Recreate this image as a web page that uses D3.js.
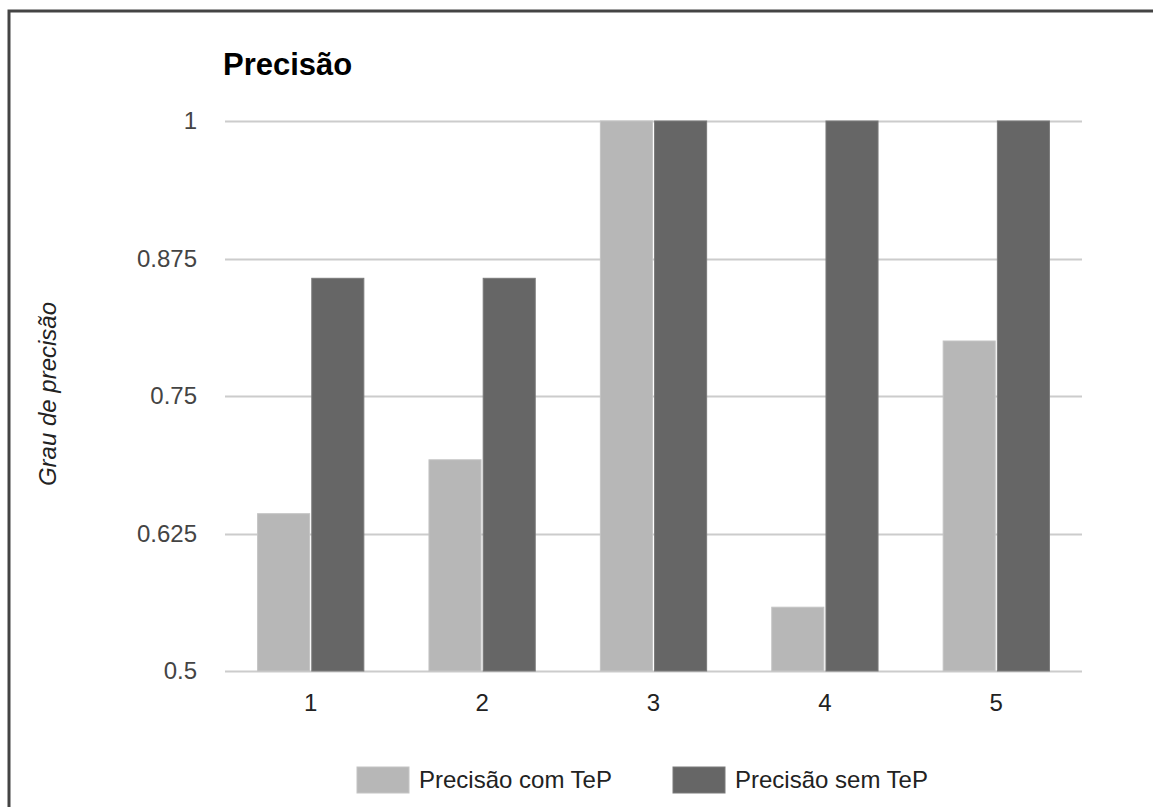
<html>
<head>
<meta charset="utf-8">
<script src="https://d3js.org/d3.v7.min.js"></script>
<style>
  body { margin: 0; background: #fff; }
  text { font-family: "Liberation Sans", Arial, sans-serif; }
</style>
</head>
<body>
<svg width="1153" height="807"></svg>
<script>
// data
var categories = ["1", "2", "3", "4", "5"];
var comTeP = [0.643, 0.692, 1, 0.558, 0.8];
var semTeP = [0.857, 0.857, 1, 1, 1];
var seriesNames = ["Precisão com TeP", "Precisão sem TeP"];
var seriesColors = ["#b7b7b7", "#666666"];
var yTicks = [0.5, 0.625, 0.75, 0.875, 1];

var svg = d3.select("svg");

// outer frame (only top & left visible in the shot)
svg.append("path")
  .attr("d", "M9,807 V11 H1153")
  .attr("fill", "none")
  .attr("stroke", "#444")
  .attr("stroke-width", 3);

var plotLeft = 225, plotRight = 1082, plotTop = 121, plotBottom = 671;

var x = d3.scaleBand().domain(categories).range([plotLeft, plotRight]).paddingInner(0.38).paddingOuter(0.19);
var xs = d3.scaleBand().domain([0, 1]).range([0, x.bandwidth()]).paddingInner(0.04);
var y = d3.scaleLinear().domain([0.5, 1]).range([plotBottom, plotTop]);

// gridlines
svg.append("g").selectAll("line").data(yTicks).enter()
  .append("line")
  .attr("x1", plotLeft).attr("x2", plotRight)
  .attr("y1", function(d) { return Math.round(y(d)) + 0.5; })
  .attr("y2", function(d) { return Math.round(y(d)) + 0.5; })
  .attr("stroke", "#cccccc")
  .attr("stroke-width", 2);

// y tick labels
svg.append("g").selectAll("text").data(yTicks).enter()
  .append("text")
  .attr("x", 197)
  .attr("y", function(d) { return y(d); })
  .attr("dy", "0.35em")
  .attr("text-anchor", "end")
  .style("font-size", "24px")
  .style("fill", "#444")
  .text(function(d) { return d3.format("")(d); });

// bars
var rows = categories.map(function(c, i) { return {cat: c, vals: [comTeP[i], semTeP[i]]}; });
var groups = svg.append("g").selectAll("g").data(rows).enter()
  .append("g")
  .attr("transform", function(d) { return "translate(" + x(d.cat) + ",0)"; });

groups.selectAll("rect").data(function(d) { return d.vals; }).enter()
  .append("rect")
  .attr("x", function(d, i) { return xs(i); })
  .attr("y", function(d) { return y(d); })
  .attr("width", xs.bandwidth())
  .attr("height", function(d) { return y(0.5) - y(d); })
  .attr("fill", function(d, i) { return seriesColors[i]; })
  .attr("stroke", function(d, i) { return i == 0 ? "#c4c4c4" : "#7a7a7a"; })
  .attr("stroke-width", 1);

// x labels
svg.append("g").selectAll("text").data(categories).enter()
  .append("text")
  .attr("x", function(d) { return x(d) + x.bandwidth() / 2; })
  .attr("y", 711)
  .attr("text-anchor", "middle")
  .style("font-size", "24px")
  .style("fill", "#222")
  .text(function(d) { return d; });

// title
svg.append("text")
  .attr("x", 223)
  .attr("y", 75)
  .style("font-size", "31px")
  .style("font-weight", "bold")
  .style("fill", "#000")
  .text("Precisão");

// y axis title
svg.append("text")
  .attr("transform", "translate(56,394) rotate(-90)")
  .attr("text-anchor", "middle")
  .style("font-size", "24px")
  .style("font-style", "italic")
  .style("fill", "#222")
  .text("Grau de precisão");

// legend
var legendX = [357, 673];
var legend = svg.append("g").selectAll("g").data(seriesNames).enter()
  .append("g")
  .attr("transform", function(d, i) { return "translate(" + legendX[i] + ",767)"; });
legend.append("rect")
  .attr("width", 52).attr("height", 26)
  .attr("fill", function(d, i) { return seriesColors[i]; })
  .attr("stroke", function(d, i) { return i == 0 ? "#c4c4c4" : "#7a7a7a"; });
legend.append("text")
  .attr("x", 62).attr("y", 21)
  .style("font-size", "24px")
  .style("fill", "#222")
  .text(function(d) { return d; });
</script>
</body>
</html>
